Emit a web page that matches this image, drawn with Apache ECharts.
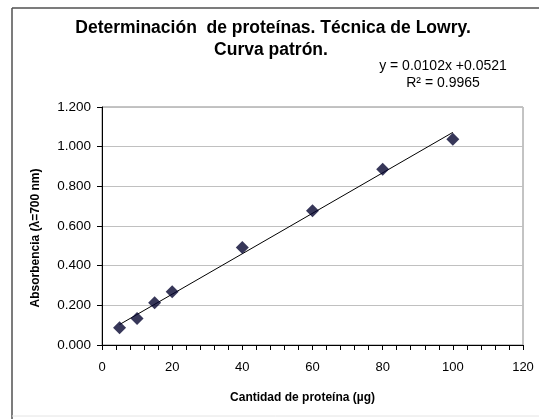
<!DOCTYPE html>
<html>
<head>
<meta charset="utf-8">
<script src="https://cdn.jsdelivr.net/npm/echarts@6/dist/echarts.min.js"></script>
<style>
html,body{margin:0;padding:0;background:#fff;}
#c{width:539px;height:419px;}
</style>
</head>
<body>
<div id="c"></div>
<script>
var proteina = [5, 10, 15, 20, 40, 60, 80, 100];
var absorbancia = [0.087, 0.133, 0.213, 0.269, 0.492, 0.677, 0.886, 1.037];
var trendX = [5, 100];
var trendY = [0.1031, 1.0721];
var yTicks = ['0.000','0.200','0.400','0.600','0.800','1.000','1.200'];
var titleLines = ['Determinación  de proteínas. Técnica de Lowry.', 'Curva patrón.'];
var eqLines = ['y = 0.0102x +0.0521', 'R² = 0.9965'];

var chart = echarts.init(document.getElementById('c'), null, {renderer: 'canvas'});
var font = 'Liberation Sans, Arial, sans-serif';
chart.setOption({
  animation: false,
  backgroundColor: '#fff',
  graphic: [
    {type: 'line', shape: {x1: 12, y1: 8, x2: 539, y2: 8}, style: {stroke: '#505050', lineWidth: 1.5}},
    {type: 'line', shape: {x1: 12, y1: 8, x2: 12, y2: 419}, style: {stroke: '#505050', lineWidth: 1.5}},
    {type: 'line', shape: {x1: 12, y1: 416, x2: 539, y2: 416}, style: {stroke: '#e4e4e4', lineWidth: 1}},
    {type: 'text', x: 273, y: 28, style: {text: titleLines[0], align: 'center', verticalAlign: 'middle', font: 'bold 17.5px Liberation Sans, Arial, sans-serif', fill: '#000'}},
    {type: 'text', x: 271, y: 50, style: {text: titleLines[1], align: 'center', verticalAlign: 'middle', font: 'bold 17.5px Liberation Sans, Arial, sans-serif', fill: '#000'}},
    {type: 'text', x: 443, y: 66, style: {text: eqLines[0], align: 'center', verticalAlign: 'middle', font: '14px Liberation Sans, Arial, sans-serif', fill: '#000'}},
    {type: 'text', x: 443, y: 83, style: {text: eqLines[1], align: 'center', verticalAlign: 'middle', font: '14px Liberation Sans, Arial, sans-serif', fill: '#000'}}
  ],
  grid: {left: 102, right: 16, top: 107, bottom: 74, show: true, borderColor: '#888', borderWidth: 1, backgroundColor: '#fff'},
  xAxis: {
    type: 'value', min: 0, max: 120, interval: 20,
    name: 'Cantidad de proteína (µg)', nameLocation: 'middle', nameGap: 47,
    nameTextStyle: {fontFamily: font, fontSize: 12, fontWeight: 'bold', color: '#000', padding: [0, 20, 0, 0]},
    axisLine: {show: true, onZero: false, lineStyle: {color: '#000', width: 1}},
    axisTick: {show: true, inside: false, length: 5, lineStyle: {color: '#000'}},
    minorTick: {show: true, splitNumber: 5, length: 5, lineStyle: {color: '#000'}},
    axisLabel: {fontFamily: font, fontSize: 13, color: '#000', margin: 16},
    splitLine: {show: false}
  },
  yAxis: {
    type: 'value', min: 0, max: 1.2, interval: 0.2,
    name: 'Absorbencia (λ=700 nm)', nameLocation: 'middle', nameGap: 60, nameRotate: 90,
    nameTextStyle: {fontFamily: font, fontSize: 12, fontWeight: 'bold', color: '#000', padding: [0, 0, 0, -24]},
    axisLine: {show: true, onZero: false, lineStyle: {color: '#000', width: 1}},
    axisTick: {show: true, inside: false, length: 5, lineStyle: {color: '#000'}},
    axisLabel: {fontFamily: font, fontSize: 13.5, color: '#000', margin: 11,
      formatter: function (v) { return yTicks[Math.round(v / 0.2)]; }},
    splitLine: {show: true, lineStyle: {color: '#c0c0c0', width: 1}}
  },
  series: [
    {
      type: 'line', data: trendX.map(function (x, i) { return [x, trendY[i]]; }),
      showSymbol: false, symbol: 'none', lineStyle: {color: '#000', width: 1}, z: 2
    },
    {
      type: 'scatter', data: proteina.map(function (x, i) { return [x, absorbancia[i]]; }),
      symbol: 'diamond', symbolSize: [13, 13], itemStyle: {color: '#050530'}, z: 3
    }
  ]
});
</script>
</body>
</html>
